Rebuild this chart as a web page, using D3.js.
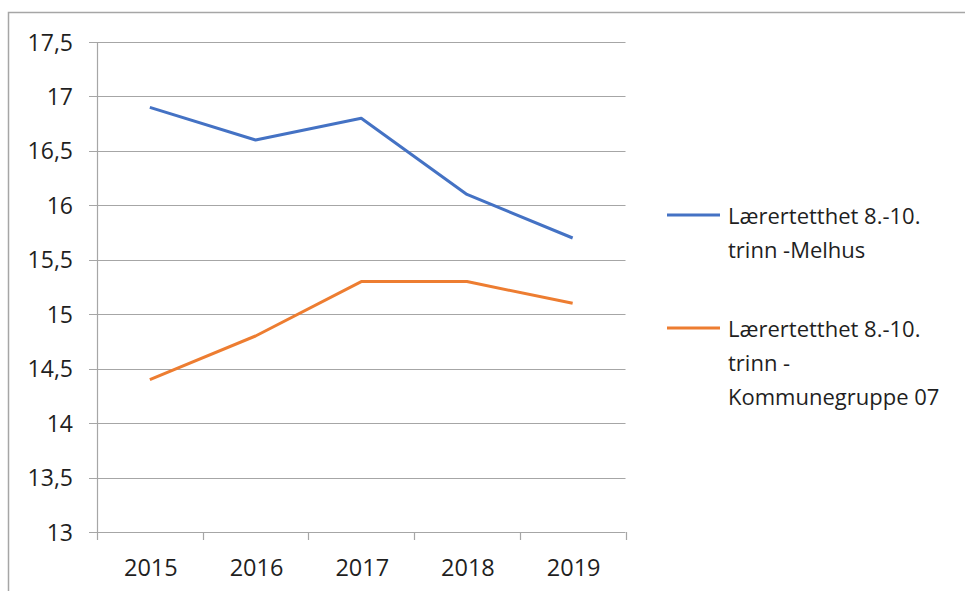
<!DOCTYPE html>
<meta charset="utf-8">
<style>
body { margin: 0; background: #fff; }
text { font-family: "Open Sans", sans-serif; fill: #1f1f1f; }
</style>
<svg width="965" height="591"></svg>
<script src="https://d3js.org/d3.v7.min.js"></script>
<script>

// data
var years = ["2015", "2016", "2017", "2018", "2019"]
var melhus = [16.9, 16.6, 16.8, 16.1, 15.7]
var kommunegruppe = [14.4, 14.8, 15.3, 15.3, 15.1]
var yTicks = [13, 13.5, 14, 14.5, 15, 15.5, 16, 16.5, 17, 17.5]
var seriesNames = [
	["Lærertetthet 8.-10.", "trinn -Melhus"],
	["Lærertetthet 8.-10.", "trinn -", "Kommunegruppe 07"]
]
var colours = ["#4472c4", "#ed7d31"]

var svg = d3.select("svg")

// outer frame (top and left edges visible)
svg.append("path")
	.attr("d", "M8.5,591 V12.5 H965")
	.attr("fill", "none")
	.attr("stroke", "#a6a6a6")
	.attr("stroke-width", 1.5)

var plotLeft = 97, plotRight = 625.5, plotTop = 42, plotBottom = 532

var x = d3.scaleBand().domain(years).range([plotLeft, plotRight])
var y = d3.scaleLinear().domain([13, 17.5]).range([plotBottom, plotTop])

// gridlines
svg.append("g").selectAll("line")
	.data(yTicks)
	.enter().append("line")
	.attr("x1", plotLeft - 8).attr("x2", plotRight)
	.attr("y1", function (d) { return Math.round(y(d)) + 0.5 })
	.attr("y2", function (d) { return Math.round(y(d)) + 0.5 })
	.attr("stroke", "#a6a6a6")
	.attr("stroke-width", 1.2)

// y axis line
svg.append("line")
	.attr("x1", plotLeft + 0.5).attr("x2", plotLeft + 0.5)
	.attr("y1", plotTop).attr("y2", plotBottom)
	.attr("stroke", "#a6a6a6").attr("stroke-width", 1.2)

// y labels
svg.append("g").selectAll("text")
	.data(yTicks)
	.enter().append("text")
	.attr("x", 73)
	.attr("y", function (d) { return y(d) + 8.5 })
	.attr("text-anchor", "end")
	.style("font-size", "23px")
	.text(function (d) { return String(d).replace(".", ",") })

// x axis ticks
var xTickPos = years.map(function (d) { return x(d) }).concat([plotRight])
svg.append("g").selectAll("line")
	.data(xTickPos)
	.enter().append("line")
	.attr("x1", function (d) { return Math.round(d) + 0.5 })
	.attr("x2", function (d) { return Math.round(d) + 0.5 })
	.attr("y1", plotBottom).attr("y2", plotBottom + 8)
	.attr("stroke", "#a6a6a6").attr("stroke-width", 1.2)

svg.append("g").selectAll("text")
	.data(years)
	.enter().append("text")
	.attr("x", function (d) { return x(d) + x.bandwidth() / 2 + 1 })
	.attr("y", 576)
	.attr("text-anchor", "middle")
	.style("font-size", "23.5px")
	.text(function (d) { return d })

// lines
var line = d3.line()
	.x(function (d, i) { return x(years[i]) + x.bandwidth() / 2 })
	.y(function (d) { return y(d) })

;[melhus, kommunegruppe].forEach(function (s, i) {
	svg.append("path")
		.datum(s)
		.attr("d", line)
		.attr("fill", "none")
		.attr("stroke", colours[i])
		.attr("stroke-width", 3)
		.attr("stroke-linejoin", "round")
})

// legend
var legendY = [215, 328]
seriesNames.forEach(function (lines, i) {
	var g = svg.append("g")
	g.append("line")
		.attr("x1", 667).attr("x2", 720)
		.attr("y1", legendY[i]).attr("y2", legendY[i])
		.attr("stroke", colours[i]).attr("stroke-width", 3)
	lines.forEach(function (t, j) {
		g.append("text")
			.attr("x", 728)
			.attr("y", legendY[i] + 9 + j * 34)
			.style("font-size", "22px")
			.text(t)
	})
})
</script>
